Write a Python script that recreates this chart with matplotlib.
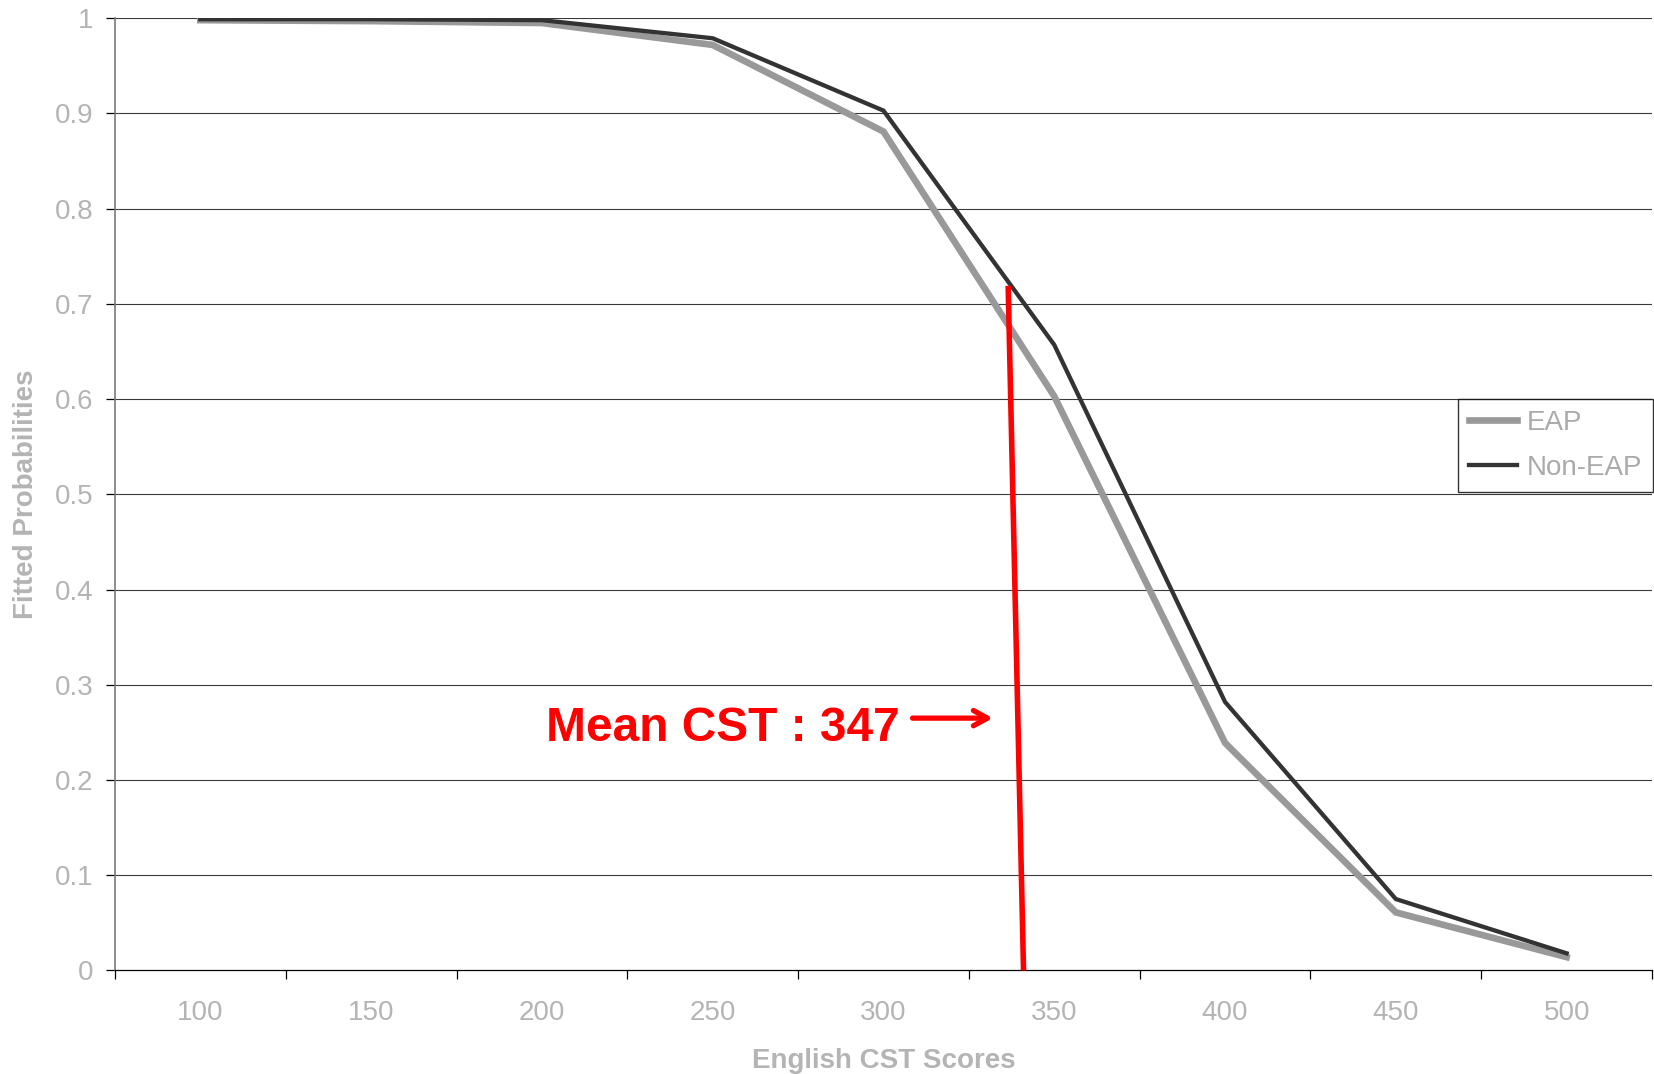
################################################################################
##### description #####
#fitted probabilities by english cst score for EAP and non-EAP students
#with a hand drawn marker for the mean cst score

################################################################################
##### import packages #####
import matplotlib
matplotlib.use('Agg')
import matplotlib.pyplot as plt
import numpy as np

plt.rcParams['font.family'] = ['Liberation Sans', 'DejaVu Sans']

################################################################################
##### data #####
cst_scores = ['100', '150', '200', '250', '300', '350', '400', '450', '500']
eap_probs = [0.998, 0.997, 0.995, 0.972, 0.881, 0.603, 0.239, 0.061, 0.014]
non_eap_probs = [0.999, 0.999, 0.998, 0.979, 0.903, 0.657, 0.282, 0.075, 0.018]

#the red mean line was drawn by hand, so it leans a little
mean_label = 'Mean CST : 347'
mean_line_scores = [336.5, 341.0]
mean_line_probs = [0.719, 0.0]
mean_arrow_scores = [308.5, 332.0]
mean_arrow_prob = 0.265
mean_text_score = 253.0
mean_text_prob = 0.254

y_ticks = np.arange(0, 1.01, 0.1)
y_tick_labels = ['0', '0.1', '0.2', '0.3', '0.4', '0.5', '0.6', '0.7', '0.8', '0.9', '1']

################################################################################
##### helpers #####
def score_to_pos(score):
    #categories are 50 points apart, starting at 100
    return (np.asarray(score, dtype=float) - 100.0) / 50.0

label_gray = '#b4b4b4'

################################################################################
##### make the figure #####
fig_01 = plt.figure(figsize=(16.54, 10.74), dpi=100)
ax = fig_01.add_axes([0.0695, 0.0964, 0.9293, 0.8866])

x_pos = np.arange(len(cst_scores))
ax.plot(x_pos, eap_probs, color='#999999', linewidth=4.8, label='EAP', zorder=3, solid_joinstyle='miter')
ax.plot(x_pos, non_eap_probs, color='#333333', linewidth=3.1, label='Non-EAP', zorder=4, solid_joinstyle='miter')

ax.set_xlim(-0.5, len(cst_scores) - 0.5)
ax.set_ylim(0, 1)

#gridlines
for yv in y_ticks[1:]:
    ax.axhline(yv, color='#3a3a3a', linewidth=0.8, zorder=1)

#spines
for side in ['top', 'right']:
    ax.spines[side].set_visible(False)
ax.spines['left'].set_color('#7a7a7a')
ax.spines['left'].set_linewidth(1.2)
ax.spines['bottom'].set_color('black')
ax.spines['bottom'].set_linewidth(0.9)

#ticks: labels on category centres, tick marks on category boundaries
ax.set_xticks(x_pos)
ax.set_xticklabels(cst_scores)
ax.set_xticks(np.arange(-0.5, len(cst_scores)), minor=True)
ax.tick_params(axis='x', which='major', length=0, pad=21, labelsize=20, labelcolor=label_gray)
ax.tick_params(axis='x', which='minor', length=6.5, width=0.9, color='black', direction='out')
ax.set_yticks(y_ticks)
ax.set_yticklabels(y_tick_labels)
ax.tick_params(axis='y', length=6.5, width=0.9, color='black', direction='out', pad=9, labelsize=20, labelcolor=label_gray)

#axis titles
fig_01.text(883.5 / 1654, 1 - 1061 / 1074, 'English CST Scores', ha='center', va='center',
            fontsize=20, fontweight='bold', color=label_gray)
fig_01.text(26 / 1654, 1 - 494 / 1074, 'Fitted Probabilities', ha='center', va='center',
            rotation=90, fontsize=20, fontweight='bold', color=label_gray)

#legend
leg = ax.legend(loc='upper right', bbox_to_anchor=(1653 / 1654, 1 - 399 / 1074),
                bbox_transform=fig_01.transFigure, fontsize=20, frameon=True, fancybox=False,
                handlelength=1.75, handletextpad=0.35, labelspacing=0.7, borderpad=0.38,
                borderaxespad=0)
leg.get_frame().set_edgecolor('black')
leg.get_frame().set_linewidth(1.0)
for txt in leg.get_texts():
    txt.set_color('#aaaaaa')

#mean cst marker
ax.plot(score_to_pos(mean_line_scores), mean_line_probs, color='#ff0000', linewidth=4,
        solid_capstyle='butt', zorder=6, clip_on=False)
ax.annotate('', xy=(score_to_pos(mean_arrow_scores[1]), mean_arrow_prob),
            xytext=(score_to_pos(mean_arrow_scores[0]), mean_arrow_prob),
            arrowprops=dict(arrowstyle='->,head_length=1.0,head_width=0.55', color='#ff0000',
                            linewidth=3.8, shrinkA=0, shrinkB=0, capstyle='round', joinstyle='round'), zorder=6)
ax.text(score_to_pos(mean_text_score), mean_text_prob, mean_label, ha='center', va='center',
        fontsize=34.5, fontweight='bold', color='#ff0000', zorder=6)

################################################################################
##### save the figure #####
plt.savefig('out.png', dpi=100)
